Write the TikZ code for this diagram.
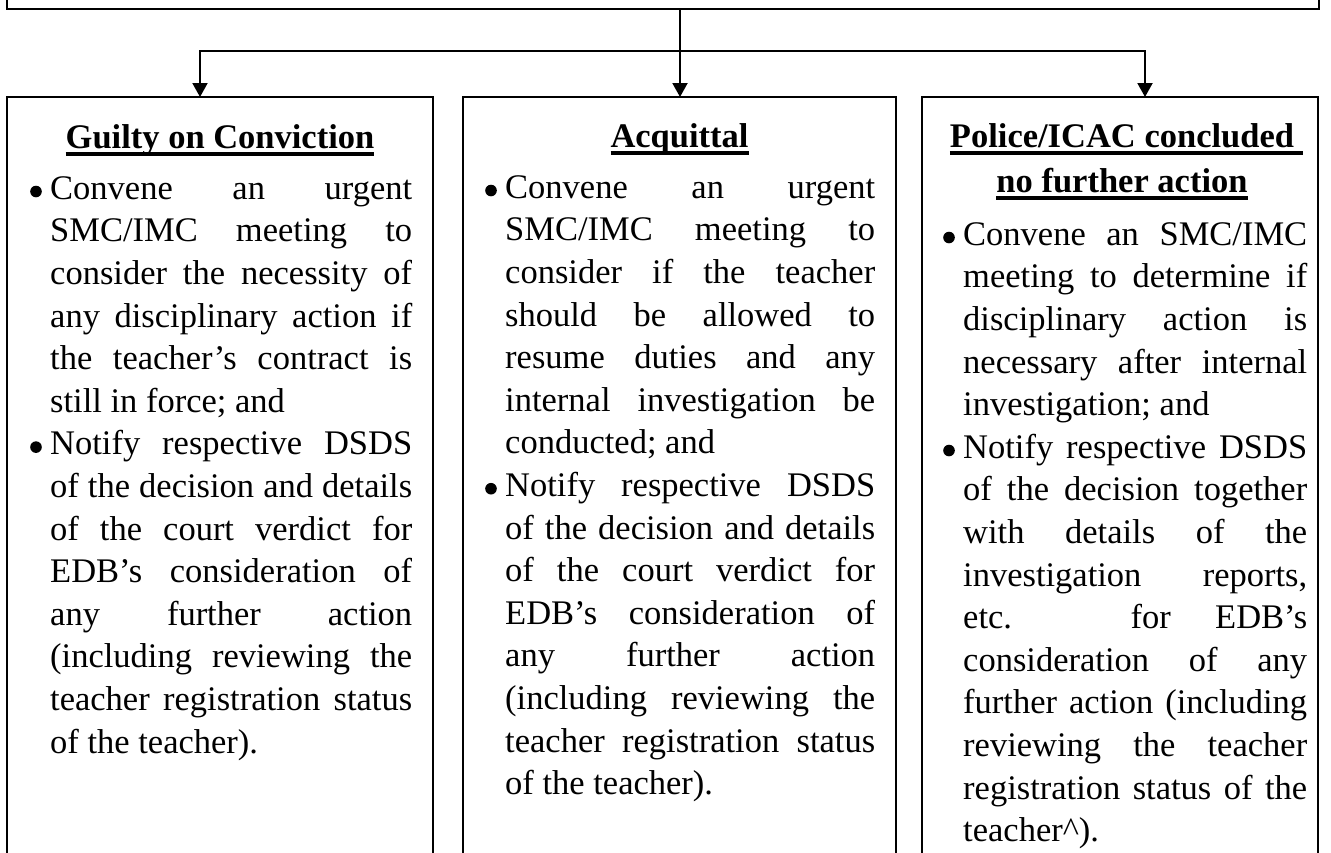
\documentclass[tikz,border=0pt]{standalone}
\usepackage{fontspec}
\setmainfont{Liberation Serif}
\usetikzlibrary{arrows.meta}
\hbadness=10000
\hfuzz=20pt
\newcommand\strutx{\vrule height32pt depth10.6pt width0pt}
\newcommand\jl[1]{\hbox to\hsize{\strutx\hskip20pt #1}}
\newcommand\el[1]{\hbox{\strutx\hskip20pt #1}}
\newcommand\ulb[2][0pt]{\setbox0\hbox{#2}\rlap{\rule[-7.5pt]{\dimexpr\wd0+#1\relax}{3.5pt}}\box0}
\tikzset{
  box/.style={draw, line width=2pt, rectangle, inner sep=0pt, outer sep=0pt, anchor=north west},
  conn/.style={line width=2pt},
  tip/.tip={Triangle[width=15pt,length=14pt]},
  arr/.style={conn, -tip},
  ttl/.style={font=\fontsize{34.5pt}{42.6pt}\selectfont\bfseries, inner sep=0pt, anchor=base},
  body/.style={inner sep=0pt, anchor=north west, font=\fontsize{34.5pt}{42.6pt}\selectfont},
  dot/.style={fill=black},
}
\begin{document}
\begin{tikzpicture}[x=1pt,y=-1pt]
\useasboundingbox (0,0) rectangle (1331,852);
\fill[white] (0,0) rectangle (1331,852);
\clip (0,0) rectangle (1331,852);
% boxes
\node[box, anchor=south west, minimum width=1311.5pt, minimum height=120pt] (top) at (7,9) {};
\node[box, minimum width=426pt, minimum height=800pt] (b1) at (7,97) {};
\node[box, minimum width=432.2pt, minimum height=800pt] (b2) at (463.3,97) {};
\node[box, minimum width=396.3pt, minimum height=800pt] (b3) at (922,97) {};
% connectors
\coordinate (s1) at (200,51);
\coordinate (s2) at (680,51);
\coordinate (s3) at (1145,51);
\draw[conn, tip-tip] (s1 |- b1.north) -- (s1) -- (s3) -- (s3 |- b3.north);
\draw[arr] (top.south -| s2) -- (s2 |- b2.north);
% titles
\node[ttl] (t1) at (220,148) {\ulb{Guilty on Conviction}};
\node[ttl] (t2) at (679.5,147) {\ulb{Acquittal}};
\node[ttl] (t3) at (1122,147) {\ulb[9pt]{Police/ICAC concluded}};
\node[ttl] (t3b) at (1122,192) {\ulb{no further action}};
% body texts
\node[body] (x1) at (30,167) {\vbox{\hsize=382pt
\jl{Convene an urgent}
\jl{SMC/IMC meeting to}
\jl{consider the necessity of}
\jl{any disciplinary action if}
\jl{the teacher’s contract is}
\el{still in force; and}
\jl{Notify respective DSDS}
\jl{of the decision and details}
\jl{of the court verdict for}
\jl{EDB’s consideration of}
\jl{any further action}
\jl{(including reviewing the}
\jl{teacher registration status}
\el{of the teacher).}}};
\node[body] (x2) at (485,166) {\vbox{\hsize=390pt
\jl{Convene an urgent}
\jl{SMC/IMC meeting to}
\jl{consider if the teacher}
\jl{should be allowed to}
\jl{resume duties and any}
\jl{internal investigation be}
\el{conducted; and}
\jl{Notify respective DSDS}
\jl{of the decision and details}
\jl{of the court verdict for}
\jl{EDB’s consideration of}
\jl{any further action}
\jl{(including reviewing the}
\jl{teacher registration status}
\el{of the teacher).}}};
\node[body] (x3) at (943,213) {\vbox{\hsize=364pt
\jl{Convene an SMC/IMC}
\jl{meeting to determine if}
\jl{disciplinary action is}
\jl{necessary after internal}
\el{investigation; and}
\jl{Notify respective DSDS}
\jl{of the decision together}
\jl{with details of the}
\jl{investigation reports,}
\jl{etc. for EDB’s}
\jl{consideration of any}
\jl{further action (including}
\jl{reviewing the teacher}
\jl{registration status of the}
\el{teacher\textasciicircum).}}};
% bullets
\fill[dot] (36,191.5) circle[radius=5.8];
\fill[dot] (36,447.1) circle[radius=5.8];
\fill[dot] (491,190.5) circle[radius=5.8];
\fill[dot] (491,488.7) circle[radius=5.8];
\fill[dot] (949,237.5) circle[radius=5.8];
\fill[dot] (949,450.5) circle[radius=5.8];
\end{tikzpicture}
\end{document}
